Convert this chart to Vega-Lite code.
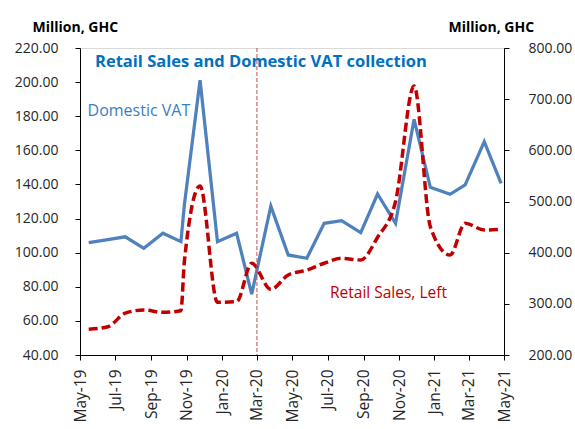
{
  "$schema": "https://vega.github.io/schema/vega-lite/v6.json",
  "autosize": {"type": "none"},
  "width": 424,
  "height": 307,
  "padding": {"left": 80, "top": 48, "right": 71, "bottom": 74},
  "background": "white",
  "config": {
    "font": "Open Sans",
    "view": {"stroke": "#D9D9D9", "strokeWidth": 1},
    "axis": {"grid": false, "domainColor": "#000000", "tickColor": "#000000", "labelColor": "#262626", "labelFont": "Open Sans", "labelFontSize": 14, "tickSize": 5}
  },
  "title": {
    "text": "Retail Sales and Domestic VAT collection",
    "anchor": "start",
    "frame": "group",
    "dx": 15,
    "dy": 67,
    "baseline": "alphabetic",
    "font": "Open Sans",
    "fontSize": 16.5,
    "fontWeight": "bold",
    "color": "#0070C0"
  },
  "data": {
    "values": [
      {"date": "2019-05-16", "vat": 419.5, "retail": 55.1},
      {"date": "2019-06-18", "vat": 425.5, "retail": 56.6},
      {"date": "2019-07-18", "vat": 431.0, "retail": 64.5},
      {"date": "2019-08-19", "vat": 408.6, "retail": 66.4},
      {"date": "2019-09-21", "vat": 438.0, "retail": 65.0},
      {"date": "2019-10-22", "vat": 421.5, "retail": 66.0},
      {"date": "2019-10-28", "vat": 494.0, "retail": 95.0},
      {"date": "2019-11-24", "vat": 737.0, "retail": 139.1},
      {"date": "2019-12-24", "vat": 421.5, "retail": 70.9},
      {"date": "2020-01-26", "vat": 438.0, "retail": 71.3},
      {"date": "2020-02-21", "vat": 319.0, "retail": 93.8},
      {"date": "2020-03-25", "vat": 491.0, "retail": 78.5},
      {"date": "2020-04-24", "vat": 395.5, "retail": 86.9},
      {"date": "2020-05-26", "vat": 389.0, "retail": 89.8},
      {"date": "2020-06-25", "vat": 457.4, "retail": 93.8},
      {"date": "2020-07-25", "vat": 462.5, "retail": 96.7},
      {"date": "2020-08-27", "vat": 439.0, "retail": 95.7},
      {"date": "2020-09-25", "vat": 514.7, "retail": 109.0},
      {"date": "2020-10-26", "vat": 457.4, "retail": 130.0},
      {"date": "2020-11-27", "vat": 660.7, "retail": 197.7},
      {"date": "2020-12-25", "vat": 527.8, "retail": 115.2},
      {"date": "2021-01-28", "vat": 514.1, "retail": 98.6},
      {"date": "2021-02-23", "vat": 532.3, "retail": 117.2},
      {"date": "2021-03-28", "vat": 616.9, "retail": 113.3},
      {"date": "2021-04-26", "vat": 535.6, "retail": 113.7}
    ]
  },
  "encoding": {
    "x": {
      "field": "date",
      "type": "temporal",
      "scale": {"type": "utc", "domain": [{"year": 2019, "month": 5, "date": 1, "utc": true}, {"year": 2021, "month": 5, "date": 1, "utc": true}]},
      "axis": {
        "title": null,
        "labelExpr": "utcFormat(datum.value, '%b-%y')",
        "labelAngle": -90,
        "labelPadding": 9,
        "labelFontSize": 15.5,
        "values": [
          {"year": 2019, "month": 5, "date": 1, "utc": true},
          {"year": 2019, "month": 7, "date": 1, "utc": true},
          {"year": 2019, "month": 9, "date": 1, "utc": true},
          {"year": 2019, "month": 11, "date": 1, "utc": true},
          {"year": 2020, "month": 1, "date": 1, "utc": true},
          {"year": 2020, "month": 3, "date": 1, "utc": true},
          {"year": 2020, "month": 5, "date": 1, "utc": true},
          {"year": 2020, "month": 7, "date": 1, "utc": true},
          {"year": 2020, "month": 9, "date": 1, "utc": true},
          {"year": 2020, "month": 11, "date": 1, "utc": true},
          {"year": 2021, "month": 1, "date": 1, "utc": true},
          {"year": 2021, "month": 3, "date": 1, "utc": true},
          {"year": 2021, "month": 5, "date": 1, "utc": true}
        ]
      }
    }
  },
  "layer": [
    {
      "encoding": {
        "y": {
          "field": "vat",
          "type": "quantitative",
          "scale": {"domain": [200, 800], "nice": false, "zero": false},
          "axis": {
            "orient": "right",
            "values": [200, 300, 400, 500, 600, 700, 800],
            "format": ".2f",
            "labelPadding": 19,
            "title": "Million, GHC",
            "titleAngle": 0,
            "titleAlign": "left",
            "titleBaseline": "alphabetic",
            "titleX": -56,
            "titleY": -17,
            "titleFont": "Open Sans",
            "titleFontSize": 14,
            "titleFontWeight": "bold",
            "titleColor": "#000000"
          }
        }
      },
      "layer": [
        {
          "mark": {"type": "line", "color": "#4F81BD", "strokeWidth": 3.25, "strokeJoin": "miter"}
        },
        {
          "data": {"values": [{"date": "2019-05-14", "vat": 667, "label": "Domestic VAT"}]},
          "mark": {"type": "text", "align": "left", "baseline": "alphabetic", "font": "Open Sans", "fontSize": 16, "color": "#3A7DC4"},
          "encoding": {"text": {"field": "label"}}
        }
      ]
    },
    {
      "encoding": {
        "y": {
          "field": "retail",
          "type": "quantitative",
          "scale": {"domain": [40, 220], "nice": false, "zero": false},
          "axis": {
            "orient": "left",
            "values": [40, 60, 80, 100, 120, 140, 160, 180, 200, 220],
            "format": ".2f",
            "labelPadding": 17,
            "title": "Million, GHC",
            "titleAngle": 0,
            "titleAlign": "left",
            "titleBaseline": "alphabetic",
            "titleX": -48,
            "titleY": -17,
            "titleFont": "Open Sans",
            "titleFontSize": 14,
            "titleFontWeight": "bold",
            "titleColor": "#000000"
          }
        }
      },
      "layer": [
        {
          "mark": {"type": "line", "color": "#C00000", "strokeWidth": 3.5, "strokeDash": [9, 4], "interpolate": "monotone"}
        },
        {
          "data": {"values": [{"date": "2020-07-05", "retail": 73.4, "label": "Retail Sales, Left"}]},
          "mark": {"type": "text", "align": "left", "baseline": "alphabetic", "font": "Open Sans", "fontSize": 15.5, "color": "#C00000"},
          "encoding": {"text": {"field": "label"}}
        }
      ]
    },
    {
      "data": {"values": [{"date": "2020-03-01"}]},
      "mark": {"type": "rule", "color": "#C0504D", "strokeWidth": 1, "strokeDash": [4, 2]},
      "encoding": {}
    }
  ],
  "resolve": {"scale": {"y": "independent"}, "axis": {"y": "independent"}}
}
